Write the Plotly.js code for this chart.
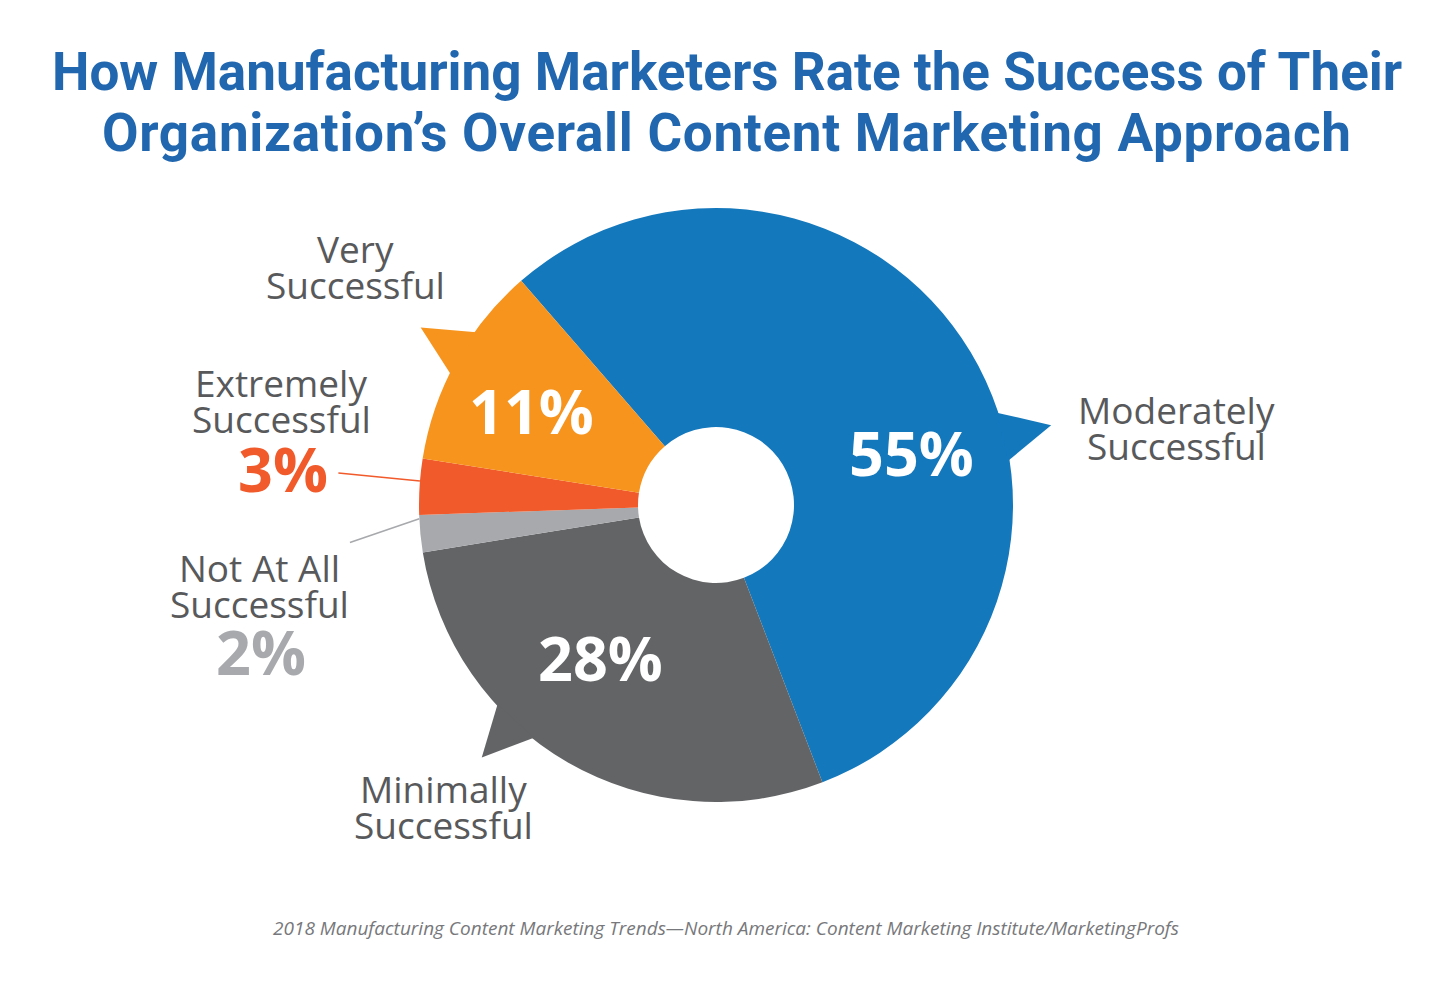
<!DOCTYPE html>
<html>
<head>
<meta charset="utf-8">
<script src="https://cdn.plot.ly/plotly-3.0.1.min.js"></script>
<style>
  html, body { margin: 0; padding: 0; background: #ffffff; }
  #chart { width: 1449px; height: 1007px; }
</style>
</head>
<body>
<div id="chart"></div>
<script>
// ---- data ----
const categories = ['Moderately Successful', 'Minimally Successful', 'Not At All Successful', 'Extremely Successful', 'Very Successful'];
const shares = [55, 28, 2, 3, 11];
const sliceColors = ['#1478BD', '#636466', '#A7A9AC', '#F15A2B', '#F7941D'];
const titleLines = ['How Manufacturing Marketers Rate the Success of Their', 'Organization\u2019s Overall Content Marketing Approach'];
const sourceNote = '2018 Manufacturing Content Marketing Trends\u2014North America: Content Marketing Institute/MarketingProfs';

// ---- geometry (pixels) ----
const W = 1449, H = 1007;
const CX = 716, CY = 505, R = 297, HOLE_R = 78;
const START = -41;                 // first slice edge, degrees clockwise from 12 o'clock

// white value labels inside the big slices: position within slice (0..1) and radius fraction
const insideSpots = { 0: { frac: 0.58, r: 0.683 }, 1: { frac: 0.57, r: 0.645 }, 4: { frac: 0.4525, r: 0.698 } };
// speech-bubble tails on the big slices
const tailSpots = { 0: 0.588, 1: 0.627, 4: 0.55 };
const TAIL_HALF = 4.8, TAIL_R = 1.16;
// category names around the ring: centre x and first-line baseline y (value baseline for thin slices)
const nameSpots = [
  { x: 1176, y: 424 },
  { x: 443, y: 803 },
  { x: 259, y: 582, pctY: 675 },
  { x: 281, y: 397, pctY: 492 },
  { x: 355, y: 263 }
];
// leader lines for the thin slices
const leaders = {
  3: { inner: { frac: 0.6, r: 1.0 }, outer: { frac: 0.62, r: 1.276 } },
  2: { inner: { frac: 0.9, r: 1.0 }, outer: { frac: 0.46, r: 1.239 } }
};

const total = shares.reduce((a, b) => a + b, 0);
const cum = [];
shares.reduce((acc, v, i) => { cum[i] = acc; return acc + v; }, 0);

function angleAt(i, frac) {
  return START + 360 * (cum[i] + frac * shares[i]) / total;
}
function polar(angleDeg, rf) {
  const a = angleDeg * Math.PI / 180;
  return [CX + R * rf * Math.sin(a), CY - R * rf * Math.cos(a)];
}
const px = x => x / W;
const py = y => 1 - y / H;

const LABEL_FONT = 'Open Sans, sans-serif';
const NAME_SIZE = 37, PCT_SIZE = 61, LINE_GAP = 36;
const annotations = [];
const shapes = [];

// title, two lines
const TITLE_SIZE = 53;
const titleSpacing = ['0px', '0.7px'];
[90, 151].forEach((base, k) => {
  annotations.push({
    xref: 'paper', yref: 'paper', x: px(727), y: py(base - 0.34 * TITLE_SIZE),
    xanchor: 'center', yanchor: 'middle', showarrow: false,
    text: `<span style="letter-spacing:${titleSpacing[k]}">${titleLines[k]}</span>`,
    font: { family: 'Roboto, sans-serif', size: TITLE_SIZE, color: '#2067B0', weight: 700 }
  });
});

// values inside the big slices
Object.keys(insideSpots).forEach(key => {
  const i = +key, s = insideSpots[key];
  const [x, y] = polar(angleAt(i, s.frac), s.r);
  annotations.push({
    xref: 'paper', yref: 'paper', x: px(x), y: py(y), xanchor: 'center', yanchor: 'middle',
    showarrow: false, text: shares[i] + '%',
    font: { family: LABEL_FONT, size: PCT_SIZE, color: '#ffffff', weight: 700 }
  });
});

// category names (two lines each) and values for the thin slices
categories.forEach((name, i) => {
  const spot = nameSpots[i];
  const parts = name.split(' ');
  const lines = [parts.slice(0, -1).join(' '), parts[parts.length - 1]];
  lines.forEach((line, k) => {
    annotations.push({
      xref: 'paper', yref: 'paper', x: px(spot.x), y: py(spot.y + k * LINE_GAP - 0.39 * NAME_SIZE),
      xanchor: 'center', yanchor: 'middle', showarrow: false, text: line,
      font: { family: LABEL_FONT, size: NAME_SIZE, color: '#58595B' }
    });
  });
  if (spot.pctY) {
    annotations.push({
      xref: 'paper', yref: 'paper', x: px(spot.x + 2), y: py(spot.pctY - 0.39 * PCT_SIZE),
      xanchor: 'center', yanchor: 'middle', showarrow: false, text: shares[i] + '%',
      font: { family: LABEL_FONT, size: PCT_SIZE, color: sliceColors[i], weight: 700 }
    });
  }
});

// source line
annotations.push({
  xref: 'paper', yref: 'paper', x: px(726), y: py(928), xanchor: 'center', yanchor: 'middle',
  showarrow: false, text: sourceNote,
  font: { family: LABEL_FONT, size: 19, color: '#77787B', style: 'italic' }
});

// speech-bubble tails
Object.keys(tailSpots).forEach(key => {
  const i = +key;
  const mid = angleAt(i, tailSpots[key]);
  const a = polar(mid - TAIL_HALF, 0.995), t = polar(mid, TAIL_R), b = polar(mid + TAIL_HALF, 0.995);
  shapes.push({
    type: 'path', xref: 'paper', yref: 'paper', layer: 'above',
    path: `M ${px(a[0])} ${py(a[1])} L ${px(t[0])} ${py(t[1])} L ${px(b[0])} ${py(b[1])} Z`,
    fillcolor: sliceColors[i], line: { width: 0 }
  });
});

// leader lines
Object.keys(leaders).forEach(key => {
  const i = +key, l = leaders[key];
  const p0 = polar(angleAt(i, l.inner.frac), l.inner.r);
  const p1 = polar(angleAt(i, l.outer.frac), l.outer.r);
  shapes.push({
    type: 'line', xref: 'paper', yref: 'paper', layer: 'below',
    x0: px(p0[0]), y0: py(p0[1]), x1: px(p1[0]), y1: py(p1[1]),
    line: { color: sliceColors[i], width: 1.6 }
  });
});

const trace = {
  type: 'pie',
  labels: categories,
  values: shares,
  sort: false,
  direction: 'clockwise',
  rotation: START,
  hole: HOLE_R / R,
  marker: { colors: sliceColors, line: { width: 0 } },
  textinfo: 'none',
  hoverinfo: 'label+percent',
  showlegend: false,
  domain: { x: [(CX - R) / W, (CX + R) / W], y: [1 - (CY + R) / H, 1 - (CY - R) / H] }
};

const layout = {
  width: W, height: H,
  margin: { l: 0, r: 0, t: 0, b: 0 },
  paper_bgcolor: '#ffffff',
  showlegend: false,
  annotations: annotations,
  shapes: shapes
};

Plotly.newPlot('chart', [trace], layout, { displayModeBar: false, responsive: false });
</script>
</body>
</html>
